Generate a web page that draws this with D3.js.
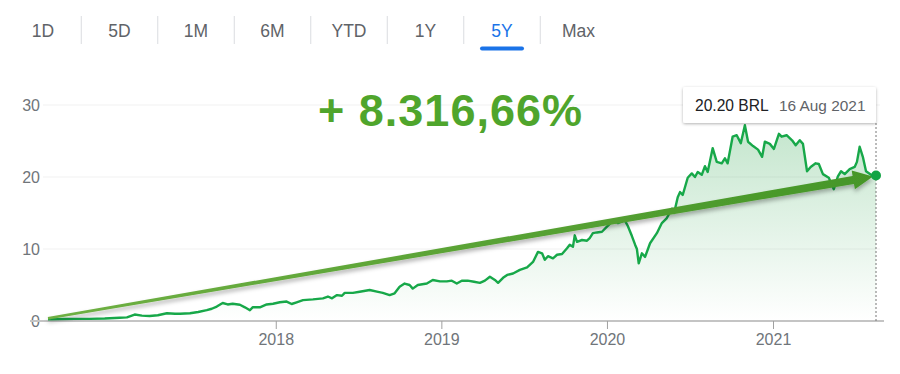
<!DOCTYPE html>
<html>
<head>
<meta charset="utf-8">
<script src="https://cdn.jsdelivr.net/npm/d3@7"></script>
<style>
  html, body { margin: 0; padding: 0; background: #fff; }
  svg { display: block; font-family: "Liberation Sans", Arial, Helvetica, sans-serif; }
</style>
</head>
<body>
<svg id="chart" width="900" height="374"></svg>
<script>
// ---- data ----
const tabs = ["1D", "5D", "1M", "6M", "YTD", "1Y", "5Y", "Max"];
const activeTab = "5Y";
const headline = "+ 8.316,66%";
const currency = "BRL";
const yTicks = [0, 10, 20, 30];
const xTickYears = ["2018-01-01", "2019-01-01", "2020-01-01", "2021-01-01"];

const dates = [
  "2016-08-17","2016-09-12","2016-10-15","2016-11-17","2016-12-20",
  "2017-01-22","2017-02-07","2017-02-24","2017-03-12","2017-03-29","2017-04-16","2017-05-06","2017-05-24","2017-06-04","2017-06-26",
  "2017-07-14","2017-08-02","2017-08-13","2017-08-24","2017-09-06","2017-09-17","2017-09-28","2017-10-14","2017-10-25","2017-11-05",
  "2017-11-11","2017-11-27","2017-12-12","2017-12-26",
  "2018-01-10","2018-01-25","2018-02-05","2018-02-16","2018-03-02","2018-03-24","2018-04-15","2018-04-26","2018-05-05","2018-05-16",
  "2018-05-27","2018-06-02","2018-06-20","2018-07-05","2018-07-27","2018-08-12","2018-08-25","2018-09-09","2018-09-20","2018-10-01",
  "2018-10-12","2018-10-23","2018-10-30","2018-11-10","2018-11-30","2018-12-13","2018-12-29",
  "2019-01-13","2019-01-24","2019-02-04","2019-02-15","2019-02-28","2019-03-14","2019-03-27","2019-04-07","2019-04-18","2019-04-29",
  "2019-05-06","2019-05-17","2019-05-26","2019-06-08","2019-06-23","2019-07-09","2019-07-22","2019-08-02","2019-08-11","2019-08-17",
  "2019-08-24","2019-09-04","2019-09-13","2019-09-24","2019-10-05","2019-10-11","2019-10-18","2019-10-22","2019-10-27","2019-11-07",
  "2019-11-18","2019-11-24","2019-12-01","2019-12-10","2019-12-21",
  "2020-01-01","2020-01-12","2020-01-19","2020-01-25","2020-02-03","2020-02-09","2020-02-16","2020-02-25","2020-03-03","2020-03-07",
  "2020-03-11","2020-03-18","2020-03-25","2020-04-05","2020-04-20","2020-05-01","2020-05-12","2020-05-23","2020-05-28","2020-06-05",
  "2020-06-10","2020-06-16","2020-06-27","2020-07-06","2020-07-13","2020-07-19","2020-07-28","2020-08-04","2020-08-10","2020-08-21",
  "2020-08-30","2020-09-10","2020-09-17","2020-09-23","2020-10-04","2020-10-13","2020-10-22","2020-10-31","2020-11-07","2020-11-18",
  "2020-11-29","2020-12-08","2020-12-14","2020-12-25",
  "2021-01-03","2021-01-14","2021-01-20","2021-01-31","2021-02-12","2021-02-20","2021-03-01","2021-03-08","2021-03-17","2021-03-25",
  "2021-04-05","2021-04-12","2021-04-21","2021-05-04","2021-05-15","2021-05-24","2021-05-31","2021-06-08","2021-06-19","2021-06-30",
  "2021-07-05","2021-07-11","2021-07-18","2021-07-25","2021-08-05","2021-08-16"
];
const prices = [
  0.24, 0.27, 0.30, 0.30, 0.35,
  0.45, 0.50, 0.90, 0.75, 0.70, 0.80, 1.07, 1.00, 1.00, 1.07,
  1.25, 1.50, 1.70, 2.00, 2.50, 2.30, 2.40, 2.26, 1.90, 1.50,
  1.90, 1.90, 2.30, 2.40,
  2.60, 2.70, 2.36, 2.60, 2.90, 3.00, 3.15, 3.40, 3.15, 3.60,
  3.50, 3.90, 3.90, 4.07, 4.30, 4.07, 3.90, 3.60, 3.85, 4.76,
  5.20, 5.00, 4.50, 5.00, 5.20, 5.70, 5.50,
  5.50, 5.60, 5.20, 5.60, 5.60, 5.45, 5.30, 5.60, 6.15, 5.70,
  5.30, 6.00, 6.40, 6.60, 7.10, 7.45, 8.20, 9.60, 9.40, 8.50,
  9.00, 8.70, 9.20, 9.30, 10.10, 10.60, 10.30, 11.90, 11.00, 11.25,
  11.15, 11.50, 12.20, 12.30, 12.40,
  13.10, 13.80, 13.90, 13.60, 13.80, 14.00, 13.20, 11.80, 10.60, 10.00,
  8.00, 9.40, 8.90, 10.80, 12.20, 13.60, 14.30, 15.60, 15.00, 17.20,
  17.90, 17.50, 19.90, 20.50, 20.00, 20.70, 20.30, 21.50, 20.70, 24.00,
  22.10, 21.90, 22.60, 21.90, 25.60, 25.80, 24.70, 27.20, 24.90, 24.30,
  23.80, 22.80, 24.90, 24.60,
  23.90, 26.00, 25.60, 25.80, 25.10, 24.40, 25.10, 24.60, 20.80, 21.40,
  21.90, 21.80, 20.40, 19.90, 18.30, 20.10, 20.80, 20.40, 21.10, 21.40,
  22.10, 24.20, 22.80, 20.80, 20.30, 20.20
];

// ---- setup ----
const parse = d3.timeParse("%Y-%m-%d");
const series = dates.map((d, i) => ({ date: parse(d), value: prices[i] }));
const first = series[0], last = series[series.length - 1];

const svg = d3.select("#chart");
const defs = svg.append("defs");

const x = d3.scaleTime().domain([first.date, last.date]).range([48, 876]);
const y = d3.scaleLinear().domain([0, 30]).range([321, 105]);

// ---- tabs ----
const tabX = d3.scalePoint().domain(tabs).range([43, 578.5]);
const tabG = svg.append("g");
tabG.selectAll("text").data(tabs).join("text")
  .attr("x", d => tabX(d)).attr("y", 37)
  .attr("text-anchor", "middle")
  .attr("font-size", 17.5)
  .attr("fill", d => d === activeTab ? "#1a73e8" : "#5f6368")
  .text(d => d);
tabG.selectAll("line").data(tabs.slice(1)).join("line")
  .attr("x1", d => tabX(d) - tabX.step() / 2).attr("x2", d => tabX(d) - tabX.step() / 2)
  .attr("y1", 16).attr("y2", 44)
  .attr("stroke", "#dadce0").attr("stroke-width", 1);
tabG.append("rect")
  .attr("x", tabX(activeTab) - 22).attr("y", 46.5)
  .attr("width", 44).attr("height", 4).attr("rx", 2)
  .attr("fill", "#1a73e8");

// ---- grid ----
svg.append("g").selectAll("line").data(yTicks.filter(t => t > 0)).join("line")
  .attr("x1", 43).attr("x2", 880)
  .attr("y1", d => y(d)).attr("y2", d => y(d))
  .attr("stroke", "#f1f1f1").attr("stroke-width", 1);

// ---- y axis labels ----
const yAxis = svg.append("g").attr("transform", "translate(42,0)")
  .call(d3.axisLeft(y).tickValues(yTicks).tickSize(0).tickPadding(2));
yAxis.select(".domain").remove();
yAxis.selectAll("text").attr("font-size", 16).attr("fill", "#70757a")
  .attr("font-family", "Liberation Sans, Arial, sans-serif");

// ---- area ----
const grad = defs.append("linearGradient").attr("id", "areaGrad")
  .attr("gradientUnits", "userSpaceOnUse")
  .attr("x1", 0).attr("x2", 0).attr("y1", y(28)).attr("y2", y(0));
grad.append("stop").attr("offset", 0).attr("stop-color", "#34a853").attr("stop-opacity", 0.3);
grad.append("stop").attr("offset", 1).attr("stop-color", "#34a853").attr("stop-opacity", 0.0);

svg.append("path").datum(series)
  .attr("fill", "url(#areaGrad)")
  .attr("d", d3.area().x(d => x(d.date)).y0(y(0)).y1(d => y(d.value)));

// ---- x axis ----
svg.append("line")
  .attr("x1", 30).attr("x2", 884).attr("y1", y(0)).attr("y2", y(0))
  .attr("stroke", "#c4c4c4").attr("stroke-width", 2);
const xAxis = svg.append("g").attr("transform", `translate(0,${y(0)})`)
  .call(d3.axisBottom(x).tickValues(xTickYears.map(parse))
    .tickFormat(d3.timeFormat("%Y")).tickSize(8).tickPadding(5));
xAxis.select(".domain").remove();
xAxis.selectAll("line").attr("stroke", "#a0a0a0");
xAxis.selectAll("text").attr("font-size", 16).attr("fill", "#70757a")
  .attr("font-family", "Liberation Sans, Arial, sans-serif");

// ---- price line ----
svg.append("path").datum(series)
  .attr("fill", "none").attr("stroke", "#17a849").attr("stroke-width", 2.4)
  .attr("stroke-linejoin", "round")
  .attr("d", d3.line().x(d => x(d.date)).y(d => y(d.value)));

// ---- hover line ----
svg.append("line")
  .attr("x1", x(last.date)).attr("x2", x(last.date))
  .attr("y1", 123).attr("y2", y(0))
  .attr("stroke", "#777").attr("stroke-width", 1).attr("stroke-dasharray", "2,2");

// ---- arrow annotation ----
const shadow = defs.append("filter").attr("id", "arrowShadow")
  .attr("x", "-10%").attr("y", "-50%").attr("width", "120%").attr("height", "200%");
shadow.append("feDropShadow").attr("dx", 0).attr("dy", 3).attr("stdDeviation", 2)
  .attr("flood-color", "#000").attr("flood-opacity", 0.3);
const aGrad = defs.append("linearGradient").attr("id", "arrowGrad")
  .attr("gradientUnits", "userSpaceOnUse")
  .attr("x1", x(first.date)).attr("x2", x(last.date)).attr("y1", 0).attr("y2", 0);
aGrad.append("stop").attr("offset", 0).attr("stop-color", "#6fb043");
aGrad.append("stop").attr("offset", 1).attr("stop-color", "#459628");

const p0 = [x(first.date), y(first.value) - 1];
const p1 = [x(last.date) - 3, y(last.value) + 1];
const dx = p1[0] - p0[0], dy = p1[1] - p0[1], len = Math.hypot(dx, dy);
const ux = dx / len, uy = dy / len, nx = -uy, ny = ux;
const headLen = 20, headHalf = 9.5, w0 = 1.2, w1 = 4;
const neck = [p1[0] - ux * headLen, p1[1] - uy * headLen];
const pt = (p, s) => [p[0] + nx * s, p[1] + ny * s];
const arrowPts = [pt(p0, w0), pt(neck, w1), pt(neck, headHalf), p1, pt(neck, -headHalf), pt(neck, -w1), pt(p0, -w0)];
svg.append("path")
  .attr("d", d3.line()(arrowPts) + "Z")
  .attr("fill", "url(#arrowGrad)")
  .attr("filter", "url(#arrowShadow)");

// ---- end dot ----
svg.append("circle")
  .attr("cx", x(last.date)).attr("cy", y(last.value)).attr("r", 5)
  .attr("fill", "#12a444");

// ---- tooltip ----
const tipShadow = defs.append("filter").attr("id", "tipShadow")
  .attr("x", "-20%").attr("y", "-50%").attr("width", "140%").attr("height", "200%");
tipShadow.append("feDropShadow").attr("dx", 0).attr("dy", 1).attr("stdDeviation", 1.5)
  .attr("flood-color", "#000").attr("flood-opacity", 0.3);
const tipW = 193, tipH = 36;
const tipX = x(last.date) - tipW, tipY = 87;
svg.append("rect")
  .attr("x", tipX).attr("y", tipY).attr("width", tipW).attr("height", tipH).attr("rx", 2)
  .attr("fill", "#fff").attr("filter", "url(#tipShadow)");
svg.append("text")
  .attr("x", tipX + 12).attr("y", tipY + 24)
  .attr("font-size", 15.6).attr("fill", "#202124")
  .text(d3.format(".2f")(last.value) + " " + currency);
svg.append("text")
  .attr("x", tipX + 96).attr("y", tipY + 24)
  .attr("font-size", 15.4).attr("fill", "#5f6368")
  .text(d3.timeFormat("%-d %b %Y")(last.date));

// ---- headline ----
svg.append("text")
  .attr("x", 318).attr("y", 126)
  .attr("font-size", 45).attr("font-weight", "bold")
  .attr("fill", "#4fa52c")
  .attr("textLength", 264).attr("lengthAdjust", "spacing")
  .text(headline);
</script>
</body>
</html>
